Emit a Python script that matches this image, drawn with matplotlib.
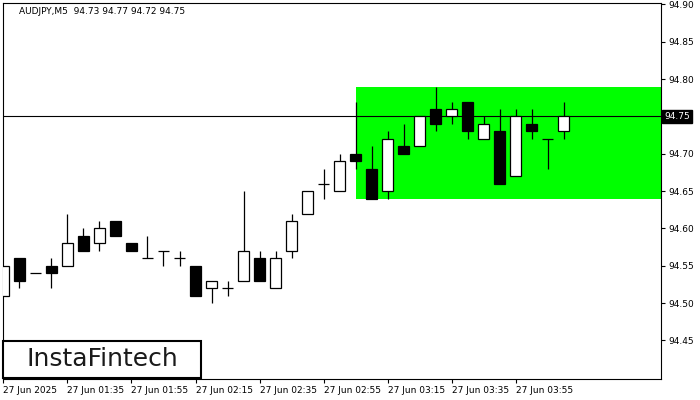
import matplotlib
matplotlib.use("Agg")
import matplotlib.pyplot as plt
import matplotlib.transforms as mtransforms
from matplotlib.patches import Rectangle

# AUDJPY M5 candles
opens = [94.51, 94.56, 94.54, 94.55, 94.55, 94.59, 94.58, 94.61, 94.58, 94.56,
         94.57, 94.56, 94.55, 94.52, 94.52, 94.53, 94.56, 94.52, 94.57, 94.62,
         94.66, 94.65, 94.70, 94.68, 94.65, 94.71, 94.71, 94.76, 94.75, 94.77,
         94.72, 94.73, 94.67, 94.74, 94.72, 94.73]
highs = [94.55, 94.56, 94.54, 94.56, 94.62, 94.60, 94.61, 94.61, 94.58, 94.59,
         94.57, 94.57, 94.55, 94.53, 94.53, 94.65, 94.57, 94.57, 94.62, 94.65,
         94.68, 94.70, 94.77, 94.71, 94.73, 94.74, 94.75, 94.79, 94.77, 94.77,
         94.75, 94.76, 94.76, 94.76, 94.72, 94.77]
lows = [94.51, 94.52, 94.54, 94.52, 94.55, 94.57, 94.57, 94.59, 94.57, 94.56,
        94.55, 94.55, 94.51, 94.50, 94.51, 94.53, 94.53, 94.52, 94.56, 94.62,
        94.64, 94.65, 94.68, 94.64, 94.64, 94.70, 94.71, 94.73, 94.74, 94.72,
        94.72, 94.66, 94.67, 94.72, 94.68, 94.72]
closes = [94.55, 94.53, 94.54, 94.54, 94.58, 94.57, 94.60, 94.59, 94.57, 94.56,
          94.57, 94.56, 94.51, 94.53, 94.52, 94.57, 94.53, 94.56, 94.61, 94.65,
          94.66, 94.69, 94.69, 94.64, 94.72, 94.70, 94.75, 94.74, 94.76, 94.73,
          94.74, 94.66, 94.75, 94.73, 94.72, 94.75]

time_labels = ["27 Jun 2025", "27 Jun 01:35", "27 Jun 01:55", "27 Jun 02:15",
               "27 Jun 02:35", "27 Jun 02:55", "27 Jun 03:15", "27 Jun 03:35",
               "27 Jun 03:55"]
price_ticks = [94.45, 94.50, 94.55, 94.60, 94.65, 94.70, 94.75, 94.80, 94.85, 94.90]

# pattern rectangle and current price
rect_start = 22
rect_low = 94.64
rect_high = 94.79
last_price = 94.75
header = "AUDJPY,M5  94.73 94.77 94.72 94.75"

W, H = 700, 400
fig = plt.figure(figsize=(7, 4), dpi=100)
ax = fig.add_axes([3 / W, 21 / H, 658 / W, 376 / H])

x_left, x_right = -0.03, 41.09
ax.set_xlim(x_left, x_right)
ax.set_ylim(94.3984, 94.902)

ax.add_patch(Rectangle((rect_start, rect_low), x_right - rect_start, rect_high - rect_low,
                       facecolor="#00ff00", edgecolor="none", zorder=1))
ax.axhline(last_price, color="black", lw=0.8, zorder=1.5)

body_w = 0.66
for i, (o, h, l, c) in enumerate(zip(opens, highs, lows, closes)):
    ax.vlines(i, l, h, color="black", lw=0.9, zorder=2)
    if abs(c - o) < 1e-9:
        ax.hlines(o, i - body_w / 2, i + body_w / 2, color="black", lw=0.9, zorder=3)
    else:
        fc = "white" if c > o else "black"
        ax.bar(i, abs(c - o), bottom=min(o, c), width=body_w, facecolor=fc,
               edgecolor="black", linewidth=0.9, zorder=3)

ax.yaxis.tick_right()
ax.set_yticks(price_ticks)
# the price tag covers the label at the last price
ax.set_yticklabels(["" if abs(p - last_price) < 1e-9 else f"{p:.2f}" for p in price_ticks])
ax.tick_params(axis="y", direction="out", length=3, pad=2, labelsize=6.5, width=0.8)

ax.set_xticks(range(0, 4 * len(time_labels), 4))
ax.set_xticklabels(time_labels)
ax.tick_params(axis="x", direction="out", length=3, pad=2, labelsize=6.5, width=0.8)
for lbl in ax.get_xticklabels():
    lbl.set_ha("left")

for s in ax.spines.values():
    s.set_linewidth(0.8)
    s.set_color("black")

# current price tag on the right axis
trans = mtransforms.blended_transform_factory(ax.transAxes, ax.transData)
ax.text(1.0 + 3 / 658, last_price, f"{last_price:.2f}", transform=trans,
        color="white", fontsize=6.5, va="center", ha="left", clip_on=False,
        bbox=dict(facecolor="black", edgecolor="black", pad=1.5), zorder=6)

fig.text(19 / W, 1 - 11 / H, header, fontsize=6.5, va="center", ha="left")

# logo box
fig.add_artist(Rectangle((3 / W, 22 / H), 198 / W, 37 / H, transform=fig.transFigure,
                         facecolor="white", edgecolor="black", lw=1.5, zorder=5))
fig.text(102 / W, 40.5 / H, "InstaFintech", fontsize=18, color="#1a1a1a",
         ha="center", va="center", zorder=6)

fig.savefig("out.png", dpi=100)
